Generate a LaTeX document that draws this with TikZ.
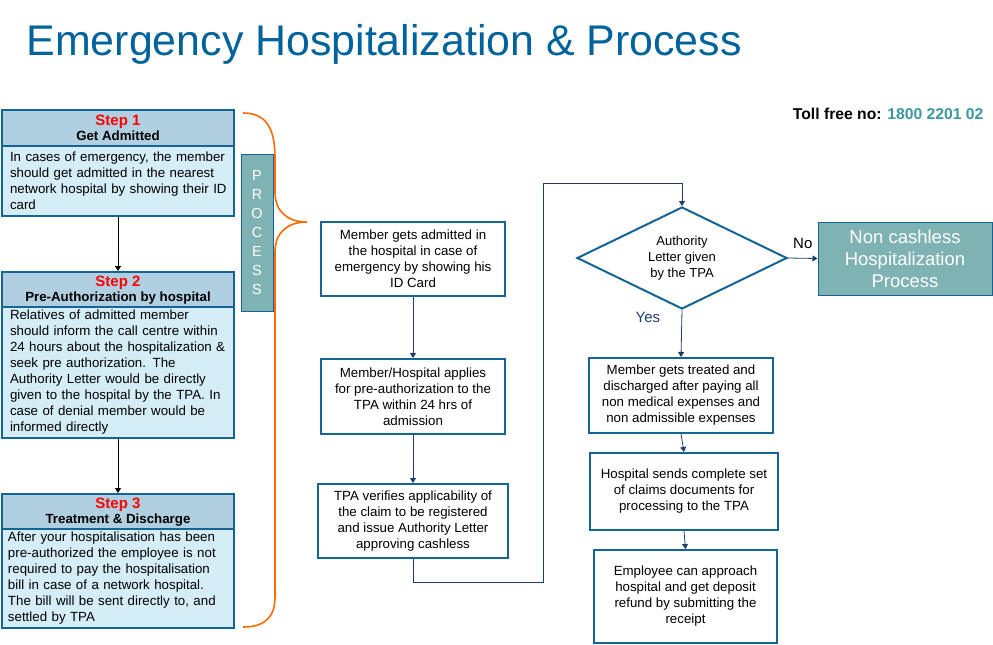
\documentclass[tikz,border=0pt]{standalone}
\usepackage{fontspec}
\setmainfont{Liberation Sans}
\usetikzlibrary{shapes.geometric,arrows.meta}

\definecolor{titleblue}{RGB}{0,99,155}
\definecolor{boxline}{RGB}{20,100,150}
\definecolor{headfill}{RGB}{176,207,224}
\definecolor{bodyfill}{RGB}{212,237,246}
\definecolor{tealfill}{RGB}{127,178,178}
\definecolor{tealtxt}{RGB}{62,150,160}
\definecolor{navy}{RGB}{31,61,107}
\definecolor{bracecol}{RGB}{255,106,0}

\begin{document}
\begin{tikzpicture}[x=1pt,y=-1pt,
    stephead/.style={draw=boxline,line width=2pt,fill=headfill,minimum width=232pt,
      minimum height=36pt,inner sep=0pt,align=center},
    stepbody/.style={draw=boxline,line width=2pt,fill=bodyfill,minimum width=232pt,
      text width=220pt,inner xsep=6pt,align=left,font=\fontsize{13.3}{16}\selectfont},
    flowbox/.style={draw=boxline,line width=2pt,fill=white,inner sep=0pt,align=center,
      font=\fontsize{13.3}{16}\selectfont},
    flowarrow/.style={navy,line width=0.8pt,-{Triangle[width=6pt,length=5pt]}},
    steparrow/.style={black,line width=0.8pt,-{Triangle[width=6pt,length=5pt]}}]
  \useasboundingbox (0,0) rectangle (993,645);

  % title and phone
  \node[anchor=west,text=titleblue,font=\fontsize{42.9}{46}\selectfont] (title) at (23,44)
    {Emergency Hospitalization \& Process};
  \node[anchor=east,font=\fontsize{15.7}{18}\selectfont\bfseries] (toll) at (987,114)
    {Toll free no: \textcolor{tealtxt}{1800 2201 02}};

  % steps on the left
  \node[stephead] (head1) at (118,128)
    {{\color{red}\fontsize{15}{16}\selectfont\bfseries Step 1}\\[1pt]{\fontsize{13.3}{14}\selectfont\bfseries Get Admitted}};
  \node[stepbody,minimum height=70pt] (body1) at (118,181)
    {\hspace*{2pt}In cases of emergency, the member\\ \hspace*{2pt}should get admitted in the nearest\\
     \hspace*{2pt}network hospital by showing their ID\\ \hspace*{2pt}card};
  \node[stephead] (head2) at (118,290)
    {{\color{red}\fontsize{15}{16}\selectfont\bfseries Step 2}\\[1pt]{\fontsize{13.3}{14}\selectfont\bfseries Pre-Authorization by hospital}};
  \node[stepbody,minimum height=129pt] (body2) at (118,372.5)
    {\hspace*{2pt}Relatives of admitted member\\ \hspace*{2pt}should inform the call centre within\\
     \hspace*{2pt}24 hours about the hospitalization \&\\ \hspace*{2pt}seek pre authorization. The\\
     \hspace*{2pt}Authority Letter would be directly\\ \hspace*{2pt}given to the hospital by the TPA. In\\
     \hspace*{2pt}case of denial member would be\\ \hspace*{2pt}informed directly};
  \node[stephead] (head3) at (118,512)
    {{\color{red}\fontsize{15}{16}\selectfont\bfseries Step 3}\\[1pt]{\fontsize{13.3}{14}\selectfont\bfseries Treatment \& Discharge}};
  \node[stepbody,minimum height=97pt] (body3) at (118,578.5)
    {After your hospitalisation has been\\ pre-authorized the employee is not\\
     required to pay the hospitalisation\\ bill in case of a network hospital.\\
     The bill will be sent directly to, and\\ settled by TPA};
  \draw[steparrow] (body1.south) -- (head2.north);
  \draw[steparrow] (body2.south) -- (head3.north);

  % process label and brace
  \node[draw=boxline,line width=1pt,fill=tealfill,minimum width=32pt,minimum height=157pt,
    text=white,font=\fontsize{14.5}{19}\selectfont,align=center] (proc) at (257,232.5)
    {P\\R\\O\\C\\E\\S\\S};
  \draw[bracecol,line width=1.6pt] (243,113) .. controls (266,113) and (275,128) .. (275,158)
    -- (275,192) .. controls (275,212) and (288,222) .. (307,222);
  \draw[bracecol,line width=1.6pt] (307,222) .. controls (288,222) and (275,232) .. (275,252)
    -- (275,597) .. controls (275,617) and (265,627) .. (243,627);

  % middle column
  \node[flowbox,minimum width=184pt,minimum height=74pt] (admit) at (413,259)
    {Member gets admitted in\\ the hospital in case of\\ emergency by showing his\\ ID Card};
  \node[flowbox,minimum width=184pt,minimum height=75pt] (apply) at (413,396.5)
    {Member/Hospital applies\\ for pre-authorization to the\\ TPA within 24 hrs of\\ admission};
  \node[flowbox,minimum width=190pt,minimum height=74pt] (verify) at (413,521)
    {TPA verifies applicability of\\ the claim to be registered\\ and issue Authority Letter\\ approving cashless};
  \draw[flowarrow] (admit.south) -- (apply.north);
  \draw[flowarrow] (apply.south) -- (verify.north);

  % decision
  \node[diamond,aspect=2,draw=boxline,line width=2pt,fill=white,minimum width=210pt,minimum height=102pt,
    inner sep=0pt,align=center,font=\fontsize{13}{16}\selectfont] (letter) at (682,258)
    {Authority\\ Letter given\\ by the TPA};
  \coordinate (loopB) at (543,582);
  \coordinate (loopT) at (543,183);
  \draw[flowarrow] (verify.south) |- (loopB) -- (loopT) -| (letter.north);
  \node[draw=boxline,line width=1pt,fill=tealfill,minimum width=174pt,minimum height=73pt,
    text=white,align=center,font=\fontsize{18.5}{22}\selectfont] (noncash) at (905,258.5)
    {Non cashless\\ Hospitalization\\ Process};
  \draw[flowarrow] (letter.east) -- node[above=6pt,text=black,font=\fontsize{15}{16}\selectfont] {No} (noncash.west);

  % right column
  \node[flowbox,minimum width=184pt,minimum height=75pt] (treat) at (681,395.5)
    {Member gets treated and\\ discharged after paying all\\ non medical expenses and\\ non admissible expenses};
  \node[flowbox,minimum width=188pt,minimum height=77pt] (send) at (684,491.5)
    {Hospital sends complete set\\ of claims documents for\\ processing to the TPA};
  \node[flowbox,minimum width=183pt,minimum height=93pt] (refund) at (685.5,596.5)
    {Employee can approach\\ hospital and get deposit\\ refund by submitting the\\ receipt};
  \draw[flowarrow] (letter.south) -- node[pos=0.15,left=18pt,font=\fontsize{15}{16}\selectfont] {Yes} (treat.north);
  \draw[flowarrow] (treat.south) -- (send.north);
  \draw[flowarrow] (send.south) -- (refund.north);
\end{tikzpicture}
\end{document}
